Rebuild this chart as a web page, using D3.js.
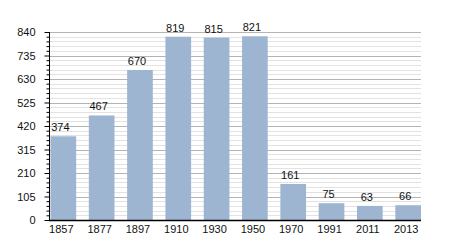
<!DOCTYPE html>
<html>
<head>
<meta charset="utf-8">
<script src="https://cdn.jsdelivr.net/npm/d3@7"></script>
<style>
  body { margin: 0; background: #fff; }
  svg text { font-family: "Liberation Sans", Arial, sans-serif; fill: #111; }
</style>
</head>
<body>
<div id="chart"></div>
<script>
  const years = ["1857", "1877", "1897", "1910", "1930", "1950", "1970", "1991", "2011", "2013"];
  const population = [374, 467, 670, 819, 815, 821, 161, 75, 63, 66];
  const yTicks = [0, 105, 210, 315, 420, 525, 630, 735, 840];
  const yMinorStep = 21;

  (function () {
    const W = 450, H = 250;
    const plot = { left: 50, right: 421, top: 32, bottom: 220 };
    const barColour = "#9db5d1";

    const svg = d3.select("#chart").append("svg")
      .attr("width", W).attr("height", H);

    const x = d3.scaleBand().domain(years).range([plot.left + 0.5, plot.right]).paddingInner(0.33).paddingOuter(0);
    const y = d3.scaleLinear().domain([0, 840]).range([plot.bottom, plot.top]);

    const minor = d3.range(0, 841, yMinorStep).filter((v) => v % 105 !== 0);

    // minor grid
    svg.append("g").selectAll("line").data(minor).enter().append("line")
      .attr("x1", plot.left).attr("x2", plot.right)
      .attr("y1", (d) => Math.round(y(d)) + 0.5).attr("y2", (d) => Math.round(y(d)) + 0.5)
      .attr("stroke", "#e2e2e2").attr("stroke-width", 1);

    // major grid
    svg.append("g").selectAll("line").data(yTicks.slice(1)).enter().append("line")
      .attr("x1", plot.left).attr("x2", plot.right)
      .attr("y1", (d) => Math.round(y(d)) + 0.5).attr("y2", (d) => Math.round(y(d)) + 0.5)
      .attr("stroke", "#b4b4b4").attr("stroke-width", 1);

    // bars
    svg.append("g").selectAll("rect").data(population).enter().append("rect")
      .attr("x", (d, i) => x(years[i]))
      .attr("width", x.bandwidth())
      .attr("y", (d) => y(d))
      .attr("height", (d) => y(0) - y(d))
      .attr("fill", barColour);

    // value labels
    svg.append("g").selectAll("text").data(population).enter().append("text")
      .attr("x", (d, i) => x(years[i]) + x.bandwidth() / 2 - 3)
      .attr("y", (d) => y(d) - 5)
      .attr("text-anchor", "middle")
      .style("font-size", "11px")
      .text((d) => d);

    // y axis with minor ticks
    const yAxis = d3.axisLeft(y).tickValues(yTicks).tickSize(5).tickPadding(9);
    const gy = svg.append("g").attr("transform", `translate(${plot.left - 0.5},0)`).call(yAxis);
    gy.attr("font-size", null);
    gy.selectAll("text").style("font-size", "11px");
    gy.selectAll("line, path").attr("stroke", "#000");
    gy.select(".domain").attr("d", `M0,${y(0)}V${y(840)}`);
    gy.append("g").selectAll("line").data(minor).enter().append("line")
      .attr("x1", -3).attr("x2", 0)
      .attr("y1", (d) => y(d) + 0.5).attr("y2", (d) => y(d) + 0.5)
      .attr("stroke", "#000");

    // x axis
    const xAxis = d3.axisBottom(x).tickSize(0).tickPadding(5);
    const gx = svg.append("g").attr("transform", `translate(0,${plot.bottom + 0.5})`).call(xAxis);
    gx.attr("font-size", null);
    gx.selectAll("text").style("font-size", "11px").attr("dx", "-2");
    gx.select(".domain").attr("d", `M${plot.left - 1},0H${plot.right}`).attr("stroke", "#000").attr("stroke-width", 1.5);
  })();
</script>
</body>
</html>
